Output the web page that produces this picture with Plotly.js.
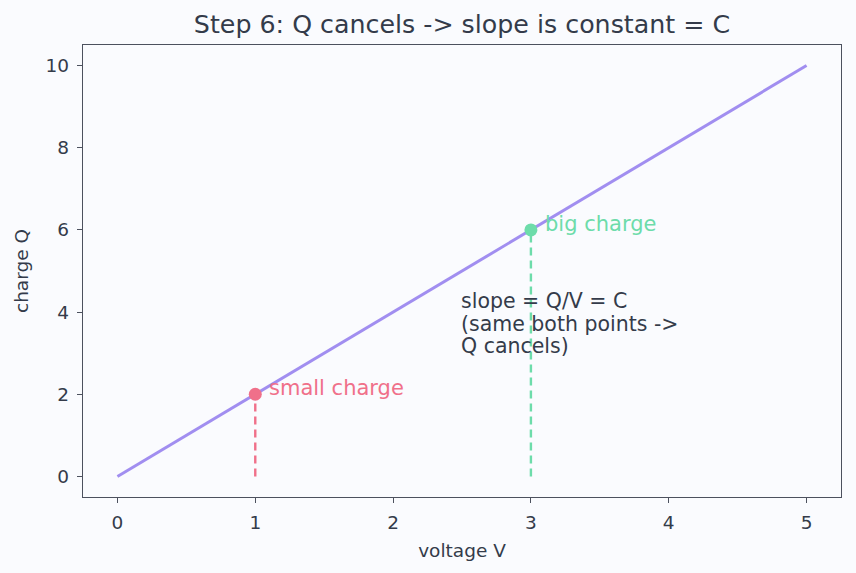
<!DOCTYPE html>
<html><head><meta charset="utf-8">
<script src="https://cdn.plot.ly/plotly-3.0.1.min.js"></script>
<style>html,body{margin:0;padding:0;background:#fafbfe;}#c{width:856px;height:573px;}</style>
</head><body><div id="c"></div>
<script>
const lineV = [0, 1, 2, 3, 4, 5];
const lineQ = [0, 2, 4, 6, 8, 10];
const pointV = [1, 3];
const pointQ = [2, 6];
const pointLabels = ["small charge", "big charge"];
const pointColors = ["#f0708a", "#6ddcaa"];
const xTicks = [0, 1, 2, 3, 4, 5];
const yTicks = [0, 2, 4, 6, 8, 10];
const noteLines = ["slope = Q/V = C", "(same both points ->", "Q cancels)"];
const noteV = 2.5, noteQ = 3;

const textColor = "#343b4a";
const frameColor = "#4c515e";
const font = "DejaVu Sans, sans-serif";

const traces = [{
  x: lineV, y: lineQ, mode: "lines", type: "scatter",
  line: {color: "#a18ef0", width: 3}, hoverinfo: "skip"
}];
pointV.forEach((v, i) => {
  traces.push({
    x: [v, v], y: [0, pointQ[i]], mode: "lines", type: "scatter",
    line: {color: pointColors[i], width: 2.4, dash: "8px,5px"}
  });
  traces.push({
    x: [v], y: [pointQ[i]], mode: "markers", type: "scatter",
    marker: {color: pointColors[i], size: 13}
  });
});

const annotations = pointV.map((v, i) => ({
  x: v, y: pointQ[i], xref: "x", yref: "y", text: pointLabels[i],
  showarrow: false, xanchor: "left", yanchor: "middle", xshift: 12, yshift: 6,
  font: {family: font, size: 21, color: pointColors[i]}
}));
const lineGap = 22.5;
noteLines.forEach((t, k) => {
  annotations.push({
    x: noteV, y: noteQ, xref: "x", yref: "y", text: t, showarrow: false,
    xanchor: "left", yanchor: "middle", align: "left", xshift: -3,
    yshift: 7 + (noteLines.length - 1 - k) * lineGap,
    font: {family: font, size: 20.5, color: textColor}
  });
});

const layout = {
  width: 856, height: 573,
  paper_bgcolor: "#fafbfe", plot_bgcolor: "#fafbfe",
  margin: {l: 83, r: 15, t: 45, b: 76},
  showlegend: false,
  font: {family: font, color: textColor, size: 18.5},
  title: {text: "Step 6: Q cancels -> slope is constant = C", font: {family: font, size: 25.3, color: textColor},
    x: 0.5, xref: "paper", y: 1 - 24/573, yref: "container", yanchor: "middle"},
  xaxis: {range: [-0.25, 5.25], tickvals: xTicks, ticks: "outside", ticklen: 5, tickcolor: frameColor,
    ticklabelstandoff: 3,
    showline: true, mirror: true, linecolor: frameColor, linewidth: 1.3, showgrid: false, zeroline: false,
    tickfont: {size: 18.5}, title: {text: "voltage V", font: {size: 18.5}, standoff: 12}},
  yaxis: {range: [-0.5, 10.5], tickvals: yTicks, ticks: "outside", ticklen: 5, tickcolor: frameColor,
    ticklabelstandoff: 4,
    showline: true, mirror: true, linecolor: frameColor, linewidth: 1.3, showgrid: false, zeroline: false,
    tickfont: {size: 18.5}, title: {text: "charge Q", font: {size: 18.5}, standoff: 12}},
  annotations: annotations
};
Plotly.newPlot("c", traces, layout, {displayModeBar: false, staticPlot: true});
</script></body></html>
